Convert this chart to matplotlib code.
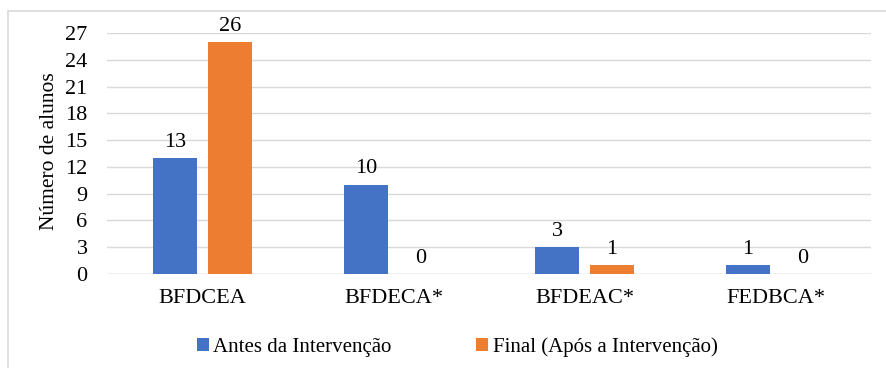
import matplotlib.pyplot as plt
import numpy as np
from matplotlib.patches import Rectangle

plt.rcParams['font.family'] = ['Liberation Serif', 'DejaVu Serif']

categorias = ["BFDCEA", "BFDECA*", "BFDEAC*", "FEDBCA*"]
antes = [13, 10, 3, 1]
final = [26, 0, 1, 0]
serie_nomes = ["Antes da Intervenção", "Final (Após a Intervenção)"]
yticks = [0, 3, 6, 9, 12, 15, 18, 21, 24, 27]

azul = "#4472C4"
laranja = "#ED7D31"

fig = plt.figure(figsize=(8.86, 3.68), dpi=100)
ax = fig.add_axes([107 / 886, 1 - 274 / 368, (871 - 107) / 886, (274 - 33) / 368])

x = np.arange(len(categorias))
w = 0.23
off = 0.144
b1 = ax.bar(x - off, antes, w, color=azul, label=serie_nomes[0])
b2 = ax.bar(x + off, final, w, color=laranja, label=serie_nomes[1])

for barras in (b1, b2):
    for b in barras:
        v = b.get_height()
        ax.text(b.get_x() + b.get_width() / 2, v + 0.7, f"{v:g}",
                ha="center", va="bottom", fontsize=16, clip_on=False)

ax.set_xlim(-0.5, len(categorias) - 0.5)
ax.set_ylim(0, 27)
ax.set_yticks(yticks)
ax.set_xticks(x)
ax.set_xticklabels(categorias, fontsize=16)
ax.tick_params(axis="y", labelsize=16, length=0, pad=14)
ax.tick_params(axis="x", length=0, pad=11)
ax.grid(axis="y", color="#d9d9d9", linewidth=1)
ax.set_axisbelow(True)
for s in ax.spines.values():
    s.set_visible(False)
ax.axhline(0, color="#d9d9d9", linewidth=1, zorder=0.5)
ax.set_ylabel("Número de alunos", fontsize=15.5)
ax.yaxis.set_label_coords(-0.063, 0.51)

fig.legend(loc="center", bbox_to_anchor=(457 / 886, 1 - 347 / 368), ncol=2,
           frameon=False, fontsize=15, handlelength=0.6, handleheight=0.6,
           handletextpad=0.2, columnspacing=4.05)

# moldura do gráfico
fig.patches.append(Rectangle((8 / 886, -0.1), 1.2, 1 - 11 / 368 + 0.1,
                             transform=fig.transFigure, fill=False,
                             edgecolor="#d9d9d9", linewidth=1.2))

fig.savefig("out.png", dpi=100)
